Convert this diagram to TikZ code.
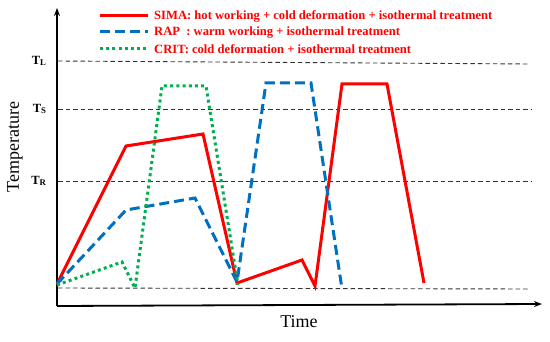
\documentclass[tikz,border=0pt]{standalone}
\usepackage{fontspec}
\setmainfont{Liberation Serif}
\usetikzlibrary{arrows.meta}
\definecolor{simared}{RGB}{255,0,0}
\definecolor{rapblue}{RGB}{0,112,192}
\definecolor{critgreen}{RGB}{0,176,80}
\tikzset{
  guide/.style={black!80, line width=0.9pt, dash pattern=on 4.5pt off 3pt},
  axisline/.style={black, line width=1.8pt, -{Stealth[length=8pt,width=6pt]}},
  sima/.style={simared, line width=3pt, line join=miter},
  rap/.style={rapblue, line width=3pt, dash pattern=on 10pt off 5pt},
  crit/.style={critgreen, line width=3pt, dash pattern=on 3pt off 3.2pt},
  tlabel/.style={font=\bfseries\fontsize{12.5}{14}\selectfont, anchor=east},
  legtext/.style={text=simared, font=\bfseries\fontsize{12.6}{14}\selectfont, anchor=west, inner sep=0pt},
  axtitle/.style={font=\fontsize{18}{20}\selectfont}
}
\begin{document}
\begin{tikzpicture}[x=1pt,y=-1pt]
\useasboundingbox (0,0) rectangle (550,342);
% guide lines
\coordinate (gL1) at (58,61); \coordinate (gL2) at (530,64);
\coordinate (gS1) at (58,109); \coordinate (gS2) at (532,109);
\coordinate (gR1) at (58,181); \coordinate (gR2) at (532,181);
\coordinate (gB1) at (58,288); \coordinate (gB2) at (528,289);
\draw[guide] (gL1) -- (gL2);
\draw[guide] (gS1) -- (gS2);
\draw[guide] (gR1) -- (gR2);
\draw[guide] (gB1) -- (gB2);
% axes
\coordinate (origin) at (57,306);
\coordinate (ytop) at (57,8);
\coordinate (xend) at (542,304);
\draw[axisline] (origin) -- (ytop);
\draw[axisline] (origin) -- (xend);
% labels
\node[tlabel] (TL) at (50,61) {T\textsubscript{L}};
\node[tlabel] (TS) at (50,109) {T\textsubscript{S}};
\node[tlabel] (TR) at (50,181) {T\textsubscript{R}};
\node[axtitle, rotate=90] (ylab) at (15,147) {Temperature};
\node[axtitle] (xlab) at (299,322) {Time};
% SIMA
\draw[sima] (57,284) -- (126,146) -- (203,134) -- (237,283) -- (302,260)
  -- (315,286) -- (342,84) -- (387,84) -- (424,283);
% RAP
\draw[rap] (57,284) -- (126,210) -- (195,198) -- (237,282) -- (266,83)
  -- (311,83) -- (342,289);
% CRIT
\draw[crit] (57,285) -- (122,262) -- (135,288) -- (162,86) -- (206,86) -- (238,285);
% legend
\coordinate (l1a) at (100,16); \coordinate (l1b) at (148,16);
\coordinate (l2a) at (100,32); \coordinate (l2b) at (148,32);
\coordinate (l3a) at (100,49); \coordinate (l3b) at (148,49);
\draw[sima] (l1a) -- (l1b);
\draw[rap] (l2a) -- (l2b);
\draw[crit] (l3a) -- (l3b);
\node[legtext] (t1) at (154,16) {SIMA: hot working + cold deformation + isothermal treatment};
\node[legtext] (t2) at (154,33) {RAP~~: warm working + isothermal treatment};
\node[legtext] (t3) at (154,49) {CRIT: cold deformation + isothermal treatment};
\end{tikzpicture}
\end{document}
